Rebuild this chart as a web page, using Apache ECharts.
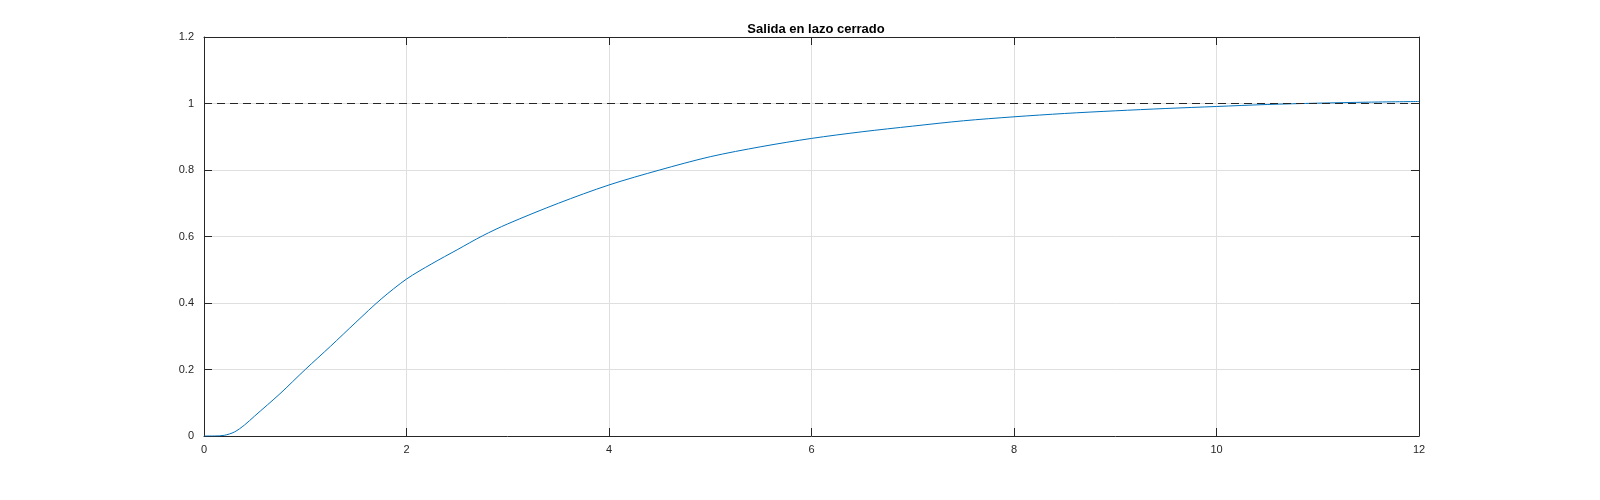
<!DOCTYPE html>
<html>
<head>
<meta charset="utf-8">
<script src="https://cdn.jsdelivr.net/npm/echarts@6/dist/echarts.min.js"></script>
<style>html,body{margin:0;background:#fff}#chart{width:1600px;height:500px}</style>
</head>
<body>
<div id="chart"></div>
<script>
var tiempo = [0, 0.1, 0.2, 0.3, 0.4, 0.5, 0.75, 1, 1.25, 1.5, 1.75, 2, 2.25, 2.5, 2.75, 3, 3.5, 4, 4.5, 5, 5.5, 6, 6.5, 7, 7.5, 8, 8.5, 9, 9.5, 10, 10.5, 11, 11.5, 12];
var salida = [0, 0, 0.002, 0.012, 0.033, 0.06, 0.127, 0.2, 0.27, 0.342, 0.412, 0.472, 0.518, 0.56, 0.602, 0.638, 0.70, 0.755, 0.80, 0.84, 0.87, 0.895, 0.915, 0.932, 0.948, 0.96, 0.97, 0.978, 0.985, 0.991, 0.997, 1.001, 1.004, 1.006];
var referencia = 1;

var chart = echarts.init(document.getElementById('chart'));

function ejeX(extra) {
    return Object.assign({
        type: 'value', min: 0, max: 12, interval: 2,
        axisLine: {show: true, onZero: false, lineStyle: {color: '#262626'}},
        axisTick: {show: true, inside: true, length: 8, lineStyle: {color: '#262626'}},
        axisLabel: {color: '#262626', fontSize: 11, fontFamily: 'Liberation Sans', margin: 8},
        splitLine: {lineStyle: {color: '#dfdfdf'}}
    }, extra);
}
function ejeY(extra) {
    return Object.assign({
        type: 'value', min: 0, max: 1.2, interval: 0.2,
        axisLine: {show: true, onZero: false, lineStyle: {color: '#262626'}},
        axisTick: {show: true, inside: true, length: 8, lineStyle: {color: '#262626'}},
        axisLabel: {color: '#262626', fontSize: 11, fontFamily: 'Liberation Sans', margin: 10,
            formatter: function(v){ return +v.toFixed(1); }},
        splitLine: {lineStyle: {color: '#dfdfdf'}}
    }, extra);
}

chart.setOption({
    animation: false,
    title: {
        text: 'Salida en lazo cerrado', left: 811, top: 18, textAlign: 'center',
        textStyle: {fontSize: 13, fontWeight: 'bold', color: '#000', fontFamily: 'Liberation Sans'}
    },
    grid: {left: 204, right: 181, top: 37, bottom: 64},
    xAxis: [ejeX({position: 'bottom'}), ejeX({position: 'top', axisLabel: {show: false}, splitLine: {show: false}})],
    yAxis: [ejeY({position: 'left'}), ejeY({position: 'right', axisLabel: {show: false}, splitLine: {show: false}})],
    series: [{
        type: 'line',
        data: tiempo.map(function(t, i){ return [t, salida[i]]; }),
        showSymbol: false,
        smooth: 0.3,
        lineStyle: {color: '#0072bd', width: 1},
        markLine: {
            silent: true, symbol: 'none', label: {show: false},
            lineStyle: {color: '#262626', type: [8, 5], width: 1},
            data: [{yAxis: referencia}]
        }
    }]
});
</script>
</body>
</html>
